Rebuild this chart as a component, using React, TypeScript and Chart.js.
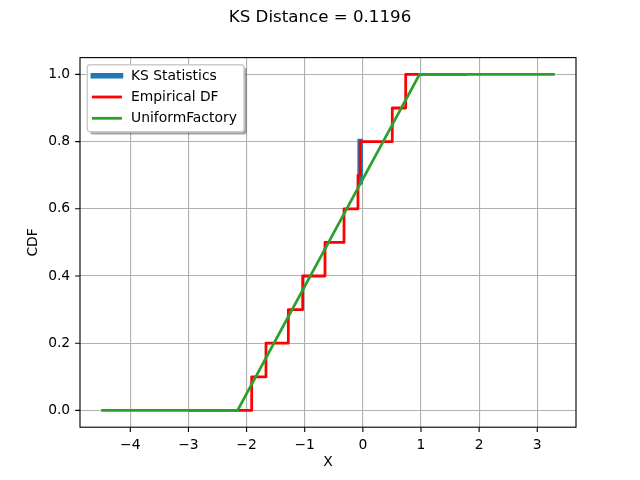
import React, { useEffect, useRef } from 'react';
import { Chart, registerables } from 'chart.js';

Chart.register(...registerables);

const chartTitle = 'KS Distance = 0.1196';
const xLabel = 'X';
const yLabel = 'CDF';
const xTicks = [-4, -3, -2, -1, 0, 1, 2, 3];
const yTicks = [0, 0.2, 0.4, 0.6, 0.8, 1.0];
const seriesNames = ['KS Statistics', 'Empirical DF', 'UniformFactory'];

const ksX = [-0.046, -0.046];
const ksY = [0.6804, 0.8];

const ecdfX = [-2.97, -1.912, -1.666, -1.282, -1.035, -0.651, -0.324, -0.084, -0.046, 0.506, 0.737, 1.76];
const ecdfY = [0, 0.1, 0.2, 0.3, 0.4, 0.5, 0.6, 0.7, 0.8, 0.9, 1.0, 1.0];

const unifX = [-4.477, -2.155, 0.975, 3.278];
const unifY = [0, 0, 1, 1];

const FONT = '"DejaVu Sans", sans-serif';
const PT = 100 / 72;

const zip = (xs: number[], ys: number[]) => xs.map((x, i) => ({ x, y: ys[i] }));

const fmtX = (v: number) => (v < 0 ? '\u2212' + Math.abs(v) : String(v));

function roundRect(ctx: CanvasRenderingContext2D, x: number, y: number, w: number, h: number, r: number) {
  ctx.beginPath();
  ctx.moveTo(x + r, y);
  ctx.lineTo(x + w - r, y);
  ctx.quadraticCurveTo(x + w, y, x + w, y + r);
  ctx.lineTo(x + w, y + h - r);
  ctx.quadraticCurveTo(x + w, y + h, x + w - r, y + h);
  ctx.lineTo(x + r, y + h);
  ctx.quadraticCurveTo(x, y + h, x, y + h - r);
  ctx.lineTo(x, y + r);
  ctx.quadraticCurveTo(x, y, x + r, y);
  ctx.closePath();
}

const mplPlugin = {
  id: 'mplDecor',
  afterDraw(chart: any) {
    const ctx: CanvasRenderingContext2D = chart.ctx;
    const a = chart.chartArea;
    const xs = chart.scales.x;
    const ys = chart.scales.y;
    ctx.save();
    // frame
    ctx.strokeStyle = '#000';
    ctx.lineWidth = 0.8 * PT;
    ctx.strokeRect(a.left, a.top, a.right - a.left, a.bottom - a.top);
    // tick marks
    ctx.beginPath();
    xTicks.forEach((v) => {
      const p = xs.getPixelForValue(v);
      ctx.moveTo(p, a.bottom);
      ctx.lineTo(p, a.bottom + 3.5 * PT);
    });
    yTicks.forEach((v) => {
      const p = ys.getPixelForValue(v);
      ctx.moveTo(a.left, p);
      ctx.lineTo(a.left - 3.5 * PT, p);
    });
    ctx.stroke();
    // title
    ctx.fillStyle = '#000';
    ctx.font = `${12 * PT}px ${FONT}`;
    ctx.textAlign = 'center';
    ctx.textBaseline = 'alphabetic';
    ctx.fillText(chartTitle, 320, 22.4);
    // legend
    const lx = 87.3, ly = 64.8, lw = 156.7, lh = 67;
    const sh = 2 * PT;
    ctx.fillStyle = 'rgba(77,77,77,0.5)';
    roundRect(ctx, lx + sh, ly + sh, lw, lh, 2.8);
    ctx.fill();
    ctx.fillStyle = '#ffffff';
    ctx.strokeStyle = '#cccccc';
    ctx.lineWidth = 1.0 * PT;
    roundRect(ctx, lx, ly, lw, lh, 2.8);
    ctx.fill();
    ctx.stroke();
    ctx.font = `${10 * PT}px ${FONT}`;
    ctx.textAlign = 'left';
    ctx.textBaseline = 'middle';
    ctx.lineCap = 'square';
    chart.data.datasets.forEach((ds: any, i: number) => {
      const ry = 75.7 + i * 21.3;
      ctx.strokeStyle = ds.borderColor;
      ctx.lineWidth = ds.borderWidth;
      ctx.beginPath();
      ctx.moveTo(93.3, ry);
      ctx.lineTo(120.5, ry);
      ctx.stroke();
      ctx.fillStyle = '#000';
      ctx.fillText(seriesNames[i], 131, ry + 0.5);
    });
    ctx.restore();
  },
};

export default function App() {
  const ref = useRef<HTMLCanvasElement>(null);
  useEffect(() => {
    if (!ref.current) return;
    Chart.defaults.font.family = FONT;
    Chart.defaults.color = '#000';
    const chart = new Chart(ref.current, {
      type: 'line',
      data: {
        datasets: [
          {
            label: seriesNames[0],
            data: zip(ksX, ksY),
            borderColor: '#1f77b4',
            borderWidth: 4 * PT,
            pointRadius: 0,
            borderCapStyle: 'square',
            order: 3,
          },
          {
            label: seriesNames[1],
            data: zip(ecdfX, ecdfY),
            borderColor: '#ff0000',
            borderWidth: 2 * PT,
            pointRadius: 0,
            stepped: true,
            borderCapStyle: 'square',
            borderJoinStyle: 'round',
            order: 2,
          },
          {
            label: seriesNames[2],
            data: zip(unifX, unifY),
            borderColor: '#2ca02c',
            borderWidth: 2 * PT,
            pointRadius: 0,
            borderCapStyle: 'square',
            borderJoinStyle: 'round',
            order: 1,
          },
        ] as any,
      },
      options: {
        animation: false,
        responsive: false,
        devicePixelRatio: 1,
        layout: { padding: { top: 57.6, right: 64, left: 0, bottom: 0 } },
        plugins: {
          legend: { display: false },
          tooltip: { enabled: false },
          title: { display: false },
        },
        scales: {
          x: {
            type: 'linear',
            min: -4.865,
            max: 3.666,
            afterBuildTicks: (s: any) => {
              s.ticks = xTicks.map((value) => ({ value }));
            },
            afterFit: (s: any) => {
              s.height = 52.8;
            },
            ticks: {
              callback: (v: any) => fmtX(Number(v)),
              font: { size: 10 * PT, family: FONT },
              color: '#000',
              padding: 9.6,
              maxRotation: 0,
              autoSkip: false,
            },
            grid: { color: '#b0b0b0', lineWidth: 0.8 * PT, drawTicks: false },
            border: { display: false },
            title: {
              display: true,
              text: xLabel,
              font: { size: 10 * PT, family: FONT },
              color: '#000',
              padding: { top: 0, bottom: 9.2 },
            },
          },
          y: {
            type: 'linear',
            min: -0.05,
            max: 1.05,
            afterBuildTicks: (s: any) => {
              s.ticks = yTicks.map((value) => ({ value }));
            },
            afterFit: (s: any) => {
              s.width = 80;
            },
            ticks: {
              callback: (v: any) => Number(v).toFixed(1),
              font: { size: 10 * PT, family: FONT },
              color: '#000',
              padding: 9.8,
              autoSkip: false,
            },
            grid: { color: '#b0b0b0', lineWidth: 0.8 * PT, drawTicks: false },
            border: { display: false },
            title: {
              display: true,
              text: yLabel,
              font: { size: 10 * PT, family: FONT },
              color: '#000',
              padding: { top: 25.5, bottom: 0 },
            },
          },
        },
      },
      plugins: [mplPlugin],
    } as any);
    return () => chart.destroy();
  }, []);
  return (
    <canvas
      ref={ref}
      width={640}
      height={480}
      style={{ position: 'absolute', left: 0, top: 0, width: 640, height: 480 }}
    />
  );
}
